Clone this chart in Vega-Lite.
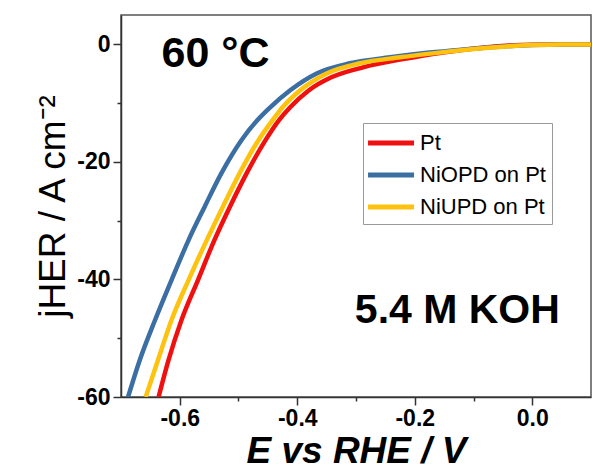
{
  "$schema": "https://vega.github.io/schema/vega-lite/v6.json",
  "width": 470,
  "height": 382,
  "autosize": {"type": "none"},
  "padding": {"left": 121, "top": 15, "right": 2, "bottom": 76},
  "background": "white",
  "config": {
    "font": "Liberation Sans",
    "view": {"stroke": "#555", "strokeWidth": 1.5}
  },
  "layer": [
    {
      "data": {
        "values": [
          {"catalyst": "Pt", "E": -0.636, "j": -60},
          {"catalyst": "Pt", "E": -0.619, "j": -53.7},
          {"catalyst": "Pt", "E": -0.597, "j": -46.9},
          {"catalyst": "Pt", "E": -0.569, "j": -40.1},
          {"catalyst": "Pt", "E": -0.541, "j": -33.3},
          {"catalyst": "Pt", "E": -0.515, "j": -27.7},
          {"catalyst": "Pt", "E": -0.486, "j": -21.9},
          {"catalyst": "Pt", "E": -0.454, "j": -16.3},
          {"catalyst": "Pt", "E": -0.431, "j": -12.9},
          {"catalyst": "Pt", "E": -0.412, "j": -10.7},
          {"catalyst": "Pt", "E": -0.380, "j": -7.8},
          {"catalyst": "Pt", "E": -0.342, "j": -5.6},
          {"catalyst": "Pt", "E": -0.288, "j": -3.9},
          {"catalyst": "Pt", "E": -0.220, "j": -2.5},
          {"catalyst": "Pt", "E": -0.158, "j": -1.45},
          {"catalyst": "Pt", "E": -0.090, "j": -0.6},
          {"catalyst": "Pt", "E": -0.040, "j": -0.2},
          {"catalyst": "Pt", "E": 0.0, "j": -0.05},
          {"catalyst": "Pt", "E": 0.05, "j": 0},
          {"catalyst": "Pt", "E": 0.1, "j": 0},
          {"catalyst": "NiOPD on Pt", "E": -0.688, "j": -60},
          {"catalyst": "NiOPD on Pt", "E": -0.668, "j": -53.7},
          {"catalyst": "NiOPD on Pt", "E": -0.642, "j": -46.9},
          {"catalyst": "NiOPD on Pt", "E": -0.614, "j": -40.1},
          {"catalyst": "NiOPD on Pt", "E": -0.585, "j": -33.3},
          {"catalyst": "NiOPD on Pt", "E": -0.558, "j": -27.7},
          {"catalyst": "NiOPD on Pt", "E": -0.529, "j": -21.9},
          {"catalyst": "NiOPD on Pt", "E": -0.495, "j": -16.3},
          {"catalyst": "NiOPD on Pt", "E": -0.468, "j": -12.9},
          {"catalyst": "NiOPD on Pt", "E": -0.446, "j": -10.7},
          {"catalyst": "NiOPD on Pt", "E": -0.412, "j": -7.8},
          {"catalyst": "NiOPD on Pt", "E": -0.366, "j": -4.9},
          {"catalyst": "NiOPD on Pt", "E": -0.310, "j": -3.2},
          {"catalyst": "NiOPD on Pt", "E": -0.242, "j": -2.2},
          {"catalyst": "NiOPD on Pt", "E": -0.175, "j": -1.4},
          {"catalyst": "NiOPD on Pt", "E": -0.107, "j": -0.8},
          {"catalyst": "NiOPD on Pt", "E": -0.050, "j": -0.35},
          {"catalyst": "NiOPD on Pt", "E": 0.0, "j": -0.1},
          {"catalyst": "NiOPD on Pt", "E": 0.05, "j": 0},
          {"catalyst": "NiOPD on Pt", "E": 0.1, "j": 0},
          {"catalyst": "NiUPD on Pt", "E": -0.658, "j": -60},
          {"catalyst": "NiUPD on Pt", "E": -0.637, "j": -53.7},
          {"catalyst": "NiUPD on Pt", "E": -0.614, "j": -46.9},
          {"catalyst": "NiUPD on Pt", "E": -0.585, "j": -40.1},
          {"catalyst": "NiUPD on Pt", "E": -0.554, "j": -33.3},
          {"catalyst": "NiUPD on Pt", "E": -0.527, "j": -27.7},
          {"catalyst": "NiUPD on Pt", "E": -0.498, "j": -21.9},
          {"catalyst": "NiUPD on Pt", "E": -0.466, "j": -16.3},
          {"catalyst": "NiUPD on Pt", "E": -0.442, "j": -12.9},
          {"catalyst": "NiUPD on Pt", "E": -0.425, "j": -10.7},
          {"catalyst": "NiUPD on Pt", "E": -0.395, "j": -7.8},
          {"catalyst": "NiUPD on Pt", "E": -0.349, "j": -4.9},
          {"catalyst": "NiUPD on Pt", "E": -0.293, "j": -3.2},
          {"catalyst": "NiUPD on Pt", "E": -0.225, "j": -2.2},
          {"catalyst": "NiUPD on Pt", "E": -0.158, "j": -1.4},
          {"catalyst": "NiUPD on Pt", "E": -0.090, "j": -0.7},
          {"catalyst": "NiUPD on Pt", "E": -0.040, "j": -0.3},
          {"catalyst": "NiUPD on Pt", "E": 0.0, "j": -0.1},
          {"catalyst": "NiUPD on Pt", "E": 0.05, "j": 0},
          {"catalyst": "NiUPD on Pt", "E": 0.1, "j": 0}
        ]
      },
      "mark": {"type": "line", "strokeWidth": 4.5, "interpolate": "monotone", "clip": true},
      "encoding": {
        "x": {
          "field": "E",
          "type": "quantitative",
          "scale": {"domain": [-0.7, 0.1], "nice": false, "zero": false},
          "axis": {
            "title": "E vs RHE / V",
            "titleFontSize": 37,
            "titleFontWeight": "bold",
            "titleFontStyle": "italic",
            "titleColor": "black",
            "titlePadding": 3,
            "values": [-0.6, -0.5, -0.4, -0.3, -0.2, -0.1, 0],
            "labelExpr": "abs(round(datum.value*10)) % 2 == 0 ? replace(format(datum.value, '.1f'), '\u2212', '-') : ''",
            "labelFontSize": 23,
            "labelFontWeight": "bold",
            "labelColor": "black",
            "labelPadding": 2,
            "labelFlush": false,
            "labelOverlap": false,
            "tickColor": "#333",
            "tickWidth": 1.5,
            "tickSize": {"condition": {"test": "abs(round(datum.value*10)) % 2 == 1", "value": 4}, "value": 8},
            "domainColor": "#333",
            "domainWidth": 1.5,
            "grid": false
          }
        },
        "y": {
          "field": "j",
          "type": "quantitative",
          "scale": {"domain": [-60, 5], "nice": false, "zero": false},
          "axis": {
            "title": "jHER / A cm⁻²",
            "titleFontSize": 37,
            "titleFontWeight": "normal",
            "titleColor": "black",
            "titlePadding": 4,
            "values": [0, -10, -20, -30, -40, -50, -60],
            "labelExpr": "abs(round(datum.value/10)) % 2 == 0 ? replace(format(datum.value, 'd'), '\u2212', '-') : ''",
            "labelFontSize": 23,
            "labelFontWeight": "bold",
            "labelColor": "black",
            "labelPadding": 3,
            "labelFlush": false,
            "labelOverlap": false,
            "tickColor": "#333",
            "tickWidth": 1.5,
            "tickSize": {"condition": {"test": "abs(round(datum.value/10)) % 2 == 1", "value": 4}, "value": 8},
            "domainColor": "#333",
            "domainWidth": 1.5,
            "grid": false
          }
        },
        "color": {
          "field": "catalyst",
          "type": "nominal",
          "scale": {
            "domain": ["Pt", "NiOPD on Pt", "NiUPD on Pt"],
            "range": ["#f01010", "#3b6ea2", "#ffc20e"]
          },
          "legend": {
            "title": null,
            "orient": "none",
            "legendX": 242,
            "legendY": 108,
            "direction": "vertical",
            "symbolType": "M-1.3,0H2.7",
            "symbolSize": 529,
            "symbolStrokeWidth": 5,
            "labelFontSize": 22,
            "labelColor": "black",
            "labelOffset": 23,
            "labelLimit": 300,
            "strokeColor": "#999",
            "fillColor": "white",
            "padding": 6,
            "rowPadding": 7
          }
        }
      }
    },
    {
      "data": {"values": [{"label": "60 °C"}]},
      "mark": {"type": "text", "fontSize": 43, "fontWeight": "bold", "align": "left", "baseline": "alphabetic", "color": "black"},
      "encoding": {
        "x": {"datum": -0.631, "type": "quantitative"},
        "y": {"datum": -3.9, "type": "quantitative"},
        "text": {"field": "label"}
      }
    },
    {
      "data": {"values": [{"label": "5.4 M KOH"}]},
      "mark": {"type": "text", "fontSize": 41, "fontWeight": "bold", "align": "left", "baseline": "alphabetic", "color": "black"},
      "encoding": {
        "x": {"datum": -0.302, "type": "quantitative"},
        "y": {"datum": -47.4, "type": "quantitative"},
        "text": {"field": "label"}
      }
    }
  ]
}
